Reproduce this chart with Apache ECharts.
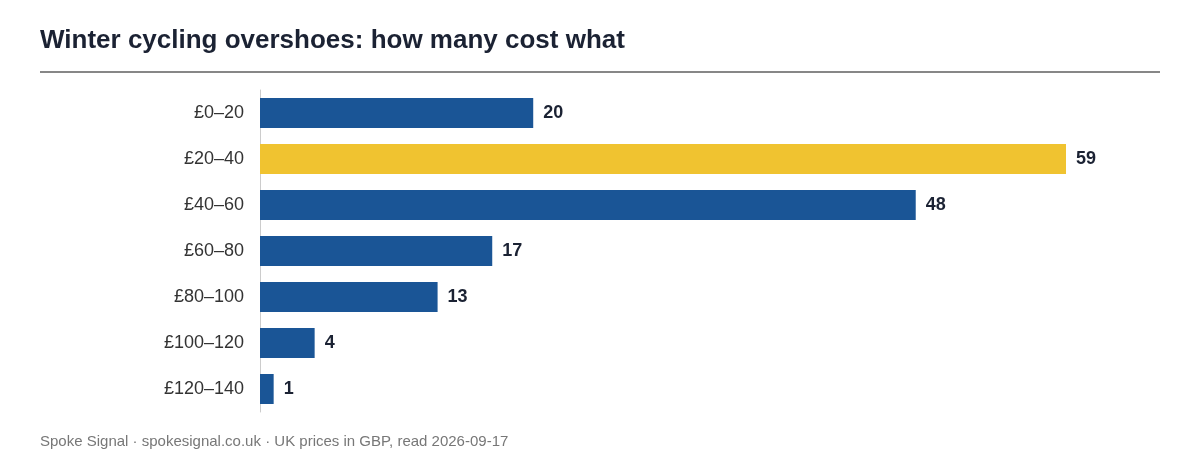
<!DOCTYPE html>
<html>
<head>
<meta charset="utf-8">
<script src="https://cdn.jsdelivr.net/npm/echarts@6/dist/echarts.min.js"></script>
<style>
  html, body { margin: 0; padding: 0; background: #fff; }
  #chart { width: 1200px; height: 472px; }
</style>
</head>
<body>
<div id="chart"></div>
<script>
// price bands and how many overshoes fall in each
const categories = ['£0–20', '£20–40', '£40–60', '£60–80', '£80–100', '£100–120', '£120–140'];
const counts = [20, 59, 48, 17, 13, 4, 1];
const highlightIndex = 1;

const blue = '#1a5596';
const yellow = '#f0c330';

const chart = echarts.init(document.getElementById('chart'));

chart.setOption({
    animation: false,
    textStyle: { fontFamily: 'Helvetica, Arial, "Liberation Sans", sans-serif' },
    title: {
        text: 'Winter cycling overshoes: how many cost what',
        left: 40,
        top: 28,
        padding: 0,
        textStyle: { fontSize: 26, fontWeight: 'bold', color: '#1b2233' }
    },
    graphic: [
        {
            type: 'line',
            shape: { x1: 40, y1: 72, x2: 1160, y2: 72 },
            style: { stroke: '#111', lineWidth: 1.2 }
        },
        {
            type: 'text',
            left: 40,
            top: 434,
            style: {
                text: 'Spoke Signal · spokesignal.co.uk · UK prices in GBP, read 2026-09-17',
                fill: '#777',
                font: '15px Helvetica, Arial, "Liberation Sans", sans-serif'
            }
        }
    ],
    grid: { left: 260, right: 134, top: 90, bottom: 60 },
    xAxis: {
        type: 'value',
        min: 0,
        max: 59,
        show: false
    },
    yAxis: {
        type: 'category',
        inverse: true,
        data: categories,
        axisLine: { lineStyle: { color: '#ccc' } },
        axisTick: { show: false },
        axisLabel: { fontSize: 18, color: '#333', margin: 16 }
    },
    series: [{
        type: 'bar',
        barWidth: 30,
        data: counts.map((v, i) => ({
            value: v,
            itemStyle: { color: i === highlightIndex ? yellow : blue }
        })),
        label: {
            show: true,
            position: 'right',
            distance: 10,
            fontSize: 18,
            fontWeight: 'bold',
            color: '#1b2233'
        }
    }]
});
</script>
</body>
</html>
